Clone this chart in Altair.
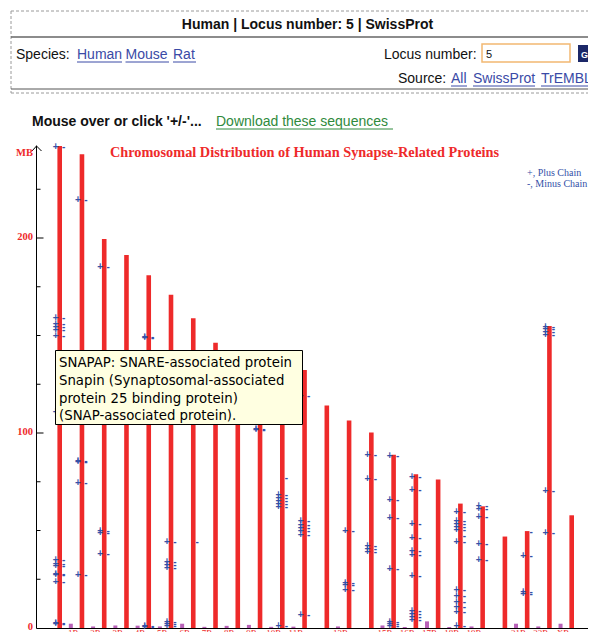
import altair as alt
import pandas as pd

# ---------------- data ----------------
chrom_names = [str(i) for i in range(1, 23)] + ["X", "Y", "M"]
chrom_mb = [247.2, 242.9, 199.5, 191.3, 180.9, 170.9, 158.8, 146.3, 140.3, 135.4,
            134.5, 132.3, 114.1, 106.4, 100.3, 88.8, 78.8, 76.1, 63.8, 62.4,
            46.9, 49.7, 154.9, 57.8, 0.8]

random_names = ["1R", "2R", "3R", "4R", "5R", "6R", "7R", "8R", "9R", "10R", "11R",
                "13R", "15R", "16R", "17R", "18R", "19R", "21R", "22R", "XR"]
random_mb = [2.2, 0.8, 1.3, 1.2, 0.8, 2.2, 0.6, 1.1, 1.6, 0.6, 0.7,
             0.8, 1.3, 0.5, 3.4, 0.5, 0.8, 2.2, 0.8, 2.2]

marker_mb = {
    "1": [246.7, 159.0, 155.8, 154.2, 152.6, 149.5, 111.0, 35.0, 32.8, 31.8, 27.8, 27.0, 23.4, 2.5, 1.8],
    "2": [219.6, 85.6, 85.0, 74.4, 27.3],
    "3": [185.3, 49.6, 48.8, 38.1],
    "5": [149.4, 148.7, 1.2, 0.5],
    "6": [43.9, 34.0, 32.5, 31.0, 3.2, 2.0, 0.8],
    "10": [102.3, 101.7],
    "11": [68.0, 66.5, 65.0, 63.5, 62.0, 0.8],
    "12": [118.8, 54.7, 52.9, 51.2, 49.6, 47.9, 6.8],
    "14": [49.9, 23.0, 22.0, 19.6],
    "15": [88.9, 76.4, 42.0, 40.5, 39.0],
    "16": [88.4, 65.8, 56.4, 30.1, 3.2, 2.2, 1.0],
    "17": [77.4, 70.9, 53.5, 46.0, 39.3, 37.6, 26.8, 8.5, 7.0, 5.5, 4.0],
    "19": [59.3, 55.0, 53.5, 52.0, 50.5, 43.9, 19.3, 16.2, 13.1, 10.8, 8.0, 1.2],
    "20": [62.5, 61.2, 56.9, 43.2, 35.0],
    "22": [37.1, 18.5, 17.5],
    "X": [154.5, 153.2, 152.0, 150.5, 70.1, 48.7],
}
minus_only_mb = {"7": [44.1], "11": [76.9], "19": [47.0], "22": [49.0]}

y_label_values = [0, 100, 200]
minor_ticks = [25, 50, 75, 125, 150, 175, 225]
major_ticks = [100, 200]

tooltip_lines = ["SNAPAP: SNARE-associated protein",
                 "Snapin (Synaptosomal-associated",
                 "protein 25 binding protein)",
                 "(SNAP-associated protein)."]

# ---------------- styling / geometry ----------------
RED = "#ee2a2a"
BLUE = "#3551a8"
PURPLE = "#b862b8"
LINK = "#3a4aa6"
GREEN = "#2f8a3c"
SERIF = "Liberation Serif"
SANS = "Liberation Sans"

OX, OY = 28 + 8, 137 + 8          # page position of plot origin
SVG_W, SVG_H = 580, 624
W, H = SVG_W - (OX - 8), 483
PAD_BOTTOM = SVG_H - (OY - 8) - H
SLOT_PX = 22.26
X0 = 1 - (59.7 - OX) / SLOT_PX
X1 = X0 + W / SLOT_PX
YMAX = H / 1.95

xs = alt.Scale(domain=[X0, X1], nice=False, zero=False)
ys = alt.Scale(domain=[0, YMAX], nice=False, zero=False)

slot_of = {n: i + 1 for i, n in enumerate(chrom_names)}

bars = pd.DataFrame({"chrom": chrom_names, "slot": [slot_of[n] for n in chrom_names],
                     "mb": chrom_mb, "base": 0.0})
rand = pd.DataFrame({"name": random_names,
                     "slot": [slot_of[n[:-1]] + 0.5 for n in random_names],
                     "mb": random_mb, "base": 0.0})

plus_rows, minus_rows = [], []
for c, vals in marker_mb.items():
    for v in vals:
        plus_rows.append({"slot": slot_of[c], "mb": v, "s": "+"})
        minus_rows.append({"slot": slot_of[c], "mb": v, "s": "-"})
for c, vals in minus_only_mb.items():
    for v in vals:
        minus_rows.append({"slot": slot_of[c], "mb": v, "s": "-"})
plus_df = pd.DataFrame(plus_rows)
minus_df = pd.DataFrame(minus_rows)

ticks_df = pd.DataFrame({"mb": minor_ticks})
major_df = pd.DataFrame({"mb": major_ticks})

one = pd.DataFrame({"t": [""]})


def px(x):
    return x - OX


def py(y):
    return y - OY


def label(text, x, y, **kw):
    style = dict(align="left", baseline="middle", font=SANS, fontSize=14, color="#111111")
    style.update(kw)
    return alt.Chart(pd.DataFrame({"t": [text]})).mark_text(**style).encode(
        x=alt.value(px(x)), y=alt.value(py(y)), text="t:N")


def hline(x1, x2, y, color="#777777", width=1.0, dash=None):
    kw = dict(color=color, strokeWidth=width)
    if dash:
        kw["strokeDash"] = dash
    return alt.Chart(one).mark_rule(**kw).encode(
        x=alt.value(px(x1)), x2=alt.value(px(x2)), y=alt.value(py(y)))


def vline(x, y1, y2, color="#777777", width=1.0, dash=None):
    kw = dict(color=color, strokeWidth=width)
    if dash:
        kw["strokeDash"] = dash
    return alt.Chart(one).mark_rule(**kw).encode(
        x=alt.value(px(x)), y=alt.value(py(y1)), y2=alt.value(py(y2)))


def box(x1, y1, x2, y2, fill, stroke=None, sw=1.0):
    kw = dict(fill=fill)
    if stroke:
        kw["stroke"] = stroke
        kw["strokeWidth"] = sw
    return alt.Chart(one).mark_rect(**kw).encode(
        x=alt.value(px(x1)), x2=alt.value(px(x2)), y=alt.value(py(y1)), y2=alt.value(py(y2)))


layers = []

# ---- header ----
layers += [
    hline(11, 600, 11, "#9a9a9a", 1, [3, 2]),
    vline(11, 11, 93, "#9a9a9a", 1, [3, 2]),
    hline(11, 600, 37, "#666666", 1.5),
    hline(11, 600, 89, "#555555", 1),
    hline(11, 600, 93, "#9a9a9a", 1, [3, 2]),
    label("Human | Locus number: 5 | SwissProt", 307.5, 25, align="center", fontWeight="bold"),
    label("Species:", 16, 55),
    label("Human", 77, 55, color=LINK), hline(77, 122, 62, LINK),
    label("Mouse", 125.5, 55, color=LINK), hline(125.5, 169, 62, LINK),
    label("Rat", 173, 55, color=LINK), hline(173, 196, 62, LINK),
    label("Locus number:", 384, 55),
    box(482, 44, 570, 62, "#ffffff", "#f2b872", 1.5),
    label("5", 486, 54.5, fontSize=11),
    box(578, 45, 600, 62, "#1c2868"),
    label("Go", 581, 54.5, fontSize=9, color="#ffffff", fontWeight="bold"),
    label("Source:", 398, 79),
    label("All", 451, 79, color=LINK), hline(451, 467, 86, LINK),
    label("SwissProt", 473, 79, color=LINK), hline(473, 535, 86, LINK),
    label("TrEMBL", 541, 79, color=LINK), hline(541, 593, 86, LINK),
    label("Mouse over or click '+/-'...", 32, 122, fontWeight="bold"),
    label("Download these sequences", 216, 122, color=GREEN), hline(216, 393, 129, GREEN),
]

# ---- chart ----
bar_layer = alt.Chart(bars).mark_rule(color=RED, strokeWidth=4.6).encode(
    x=alt.X("slot:Q", scale=xs,
            axis=alt.Axis(labels=False, ticks=False, grid=False, title=None,
                          domainColor="#000000", domainWidth=1)),
    y=alt.Y("mb:Q", scale=ys,
            axis=alt.Axis(values=y_label_values, tickSize=0, grid=False, title=None,
                          labelFont=SERIF, labelFontWeight="bold", labelFontSize=10.5,
                          labelColor=RED, labelPadding=3.5, labelOffset=-2,
                          domainColor="#000000", domainWidth=1)),
    y2="base:Q",
)
rand_layer = alt.Chart(rand).mark_rule(color=PURPLE, strokeWidth=4).encode(
    x=alt.X("slot:Q", scale=xs), y=alt.Y("mb:Q", scale=ys), y2="base:Q")

tick_layer = alt.Chart(ticks_df).mark_rule(color="#000000", strokeWidth=1).encode(
    y=alt.Y("mb:Q", scale=ys), x=alt.value(0), x2=alt.value(4.5))
major_layer = alt.Chart(major_df).mark_rule(color="#000000", strokeWidth=1).encode(
    y=alt.Y("mb:Q", scale=ys), x=alt.value(0), x2=alt.value(7.5))

plus_layer = alt.Chart(plus_df).mark_text(font=SANS, fontSize=10, fontWeight="bold",
                                          color=BLUE, dx=-4, baseline="middle").encode(
    x=alt.X("slot:Q", scale=xs), y=alt.Y("mb:Q", scale=ys), text="s:N")
minus_layer = alt.Chart(minus_df).mark_text(font=SANS, fontSize=10, fontWeight="bold",
                                            color=BLUE, dx=4, baseline="middle").encode(
    x=alt.X("slot:Q", scale=xs), y=alt.Y("mb:Q", scale=ys), text="s:N")

chrom_lab = alt.Chart(bars).mark_text(font=SERIF, fontSize=10.5, color=RED,
                                      baseline="alphabetic").encode(
    x=alt.X("slot:Q", scale=xs), y=alt.value(py(643.5)), text="chrom:N")
rand_lab = alt.Chart(rand).mark_text(font=SERIF, fontSize=9, color=RED, dx=2.5,
                                     baseline="alphabetic").encode(
    x=alt.X("slot:Q", scale=xs), y=alt.value(py(636)), text="name:N")

layers += [bar_layer, rand_layer, tick_layer, major_layer, plus_layer, minus_layer,
           chrom_lab, rand_lab]

# axis arrow head
layers += [
    alt.Chart(one).mark_rule(color="#000000").encode(
        x=alt.value(px(36.5)), y=alt.value(py(146)), x2=alt.value(px(32)), y2=alt.value(py(151))),
    alt.Chart(one).mark_rule(color="#000000").encode(
        x=alt.value(px(36.5)), y=alt.value(py(146)), x2=alt.value(px(41.5)), y2=alt.value(py(151))),
]

# titles and legend
layers += [
    label("MB", 33, 152.7, align="right", font=SERIF, fontSize=10.5, fontWeight="bold", color=RED),
    label("Chromosomal Distribution of Human Synapse-Related Proteins", 304.5, 152.5,
          align="center", font=SERIF, fontSize=14.3, fontWeight="bold", color=RED),
    label("+, Plus Chain", 527, 172.5, font=SERIF, fontSize=10, color=BLUE),
    label("-, Minus Chain", 527, 184, font=SERIF, fontSize=10, color=BLUE),
]

# tooltip
layers.append(box(55.5, 350.5, 302.5, 424.5, "#ffffe1", "#000000", 1))
for i, line in enumerate(tooltip_lines):
    layers.append(label(line, 59, 363 + i * 17.8, font="DejaVu Sans", fontSize=13.3,
                        color="#000000"))

chart = alt.layer(*layers).properties(
    width=W, height=H,
    padding={"left": OX - 8, "top": OY - 8, "right": 0, "bottom": PAD_BOTTOM},
    autosize=alt.AutoSizeParams(type="none"),
    background="#ffffff",
).configure_view(stroke="transparent")

chart.save("out.html", embed_options={"renderer": "svg", "actions": False})
